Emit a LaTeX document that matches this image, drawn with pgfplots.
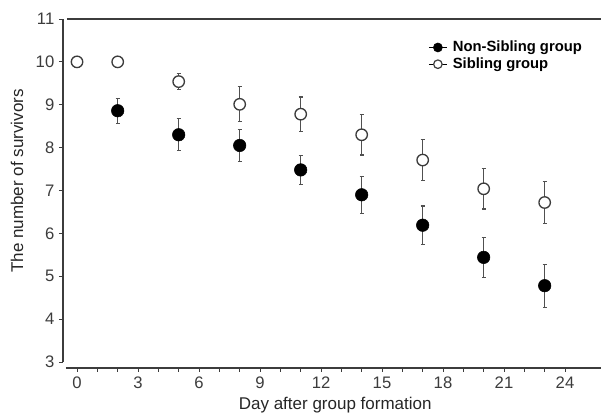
\documentclass[border=0pt]{standalone}
\usepackage{fontspec}
\setmainfont{Liberation Sans}
\usepackage{pgfplots}
\usepackage{pgfplotstable}
\pgfplotsset{compat=1.18}

\definecolor{axisgray}{HTML}{3C3C3C}
\definecolor{bargray}{HTML}{505050}

% day, mean, error
\pgfplotstableread{
x y e
2 8.86 0.29
5 8.30 0.37
8 8.05 0.37
11 7.48 0.34
14 6.90 0.43
17 6.19 0.45
20 5.44 0.47
23 4.78 0.50
}\nonsib
\pgfplotstableread{
x y e
0 10.00 0
2 10.00 0
5 9.54 0.19
8 9.01 0.41
11 8.78 0.40
14 8.30 0.47
17 7.71 0.48
20 7.04 0.47
23 6.72 0.49
}\sib

\begin{document}
\begin{tikzpicture}
\useasboundingbox (0pt,0pt) rectangle (450.75pt,-315pt);
\begin{axis}[
    at={(47.25pt,-276pt)}, anchor=south west,
    scale only axis,
    width=403.5pt, height=261.75pt,
    xmin=-0.69, xmax=25.77,
    ymin=2.86, ymax=11,
    clip=false,
    axis x line*=bottom, axis y line*=left,
    axis line style={draw=none},
    xtick={0,3,...,24}, minor x tick num=2,
    ytick={3,...,11},
    tick align=outside,
    major tick length=3pt, minor tick length=3pt,
    tick style={axisgray, line width=0.7pt},
    tick label style={font=\fontsize{12.5}{14}\selectfont, text=axisgray},
    /pgf/number format/assume math mode=true,
    xlabel={Day after group formation},
    ylabel={The number of survivors},
    label style={font=\fontsize{12.75}{15}\selectfont, text=black!85},
    xlabel style={at={(axis description cs:0.506,-0.106)}, anchor=center},
    ylabel style={at={(axis description cs:-0.0855,0.536)}, anchor=center, rotate=0},
    legend style={at={(axis description cs:0.676,0.945)}, anchor=north west,
        draw=none, fill=none, font=\bfseries\fontsize{11.1}{12}\selectfont,
        row sep=1pt, column sep=3pt, inner sep=1pt, nodes={inner sep=1pt}},
    legend cell align=left,
    error bars/y dir=both, error bars/y explicit,
    error bars/error bar style={bargray, line width=0.9pt},
    error bars/error mark options={rotate=90, mark size=1.6pt, bargray, line width=0.9pt},
]
\addplot[only marks, mark=*, mark size=4.7pt, mark options={fill=black, draw=black},
    legend image code/.code={
        \draw[black, line width=0.9pt] (0pt,0pt) -- (13.5pt,0pt);
        \fill[black] (6.75pt,0pt) circle (3.4pt);}]
    table[x=x, y=y, y error=e] {\nonsib};
\addplot[only marks, mark=*, mark size=4.3pt, mark options={fill=white, draw=axisgray, line width=1pt},
    legend image code/.code={
        \draw[black, line width=0.9pt] (0pt,0pt) -- (13.5pt,0pt);
        \filldraw[fill=white, draw=axisgray, line width=0.9pt] (6.75pt,0pt) circle (3.2pt);}]
    table[x=x, y=y, y error=e] {\sib};
\legend{Non-Sibling group, Sibling group}
% axis lines drawn apart, as in the original
\draw[axisgray, line width=1pt] (rel axis cs:0,0.017) -- (axis cs:-0.69,11);
\draw[axisgray, line width=1pt] (axis cs:-0.55,2.86) -- (rel axis cs:1,0);
\draw[axisgray, line width=1pt] (axis cs:-0.5,11) -- (rel axis cs:1,1);
\end{axis}
\end{tikzpicture}
\end{document}
